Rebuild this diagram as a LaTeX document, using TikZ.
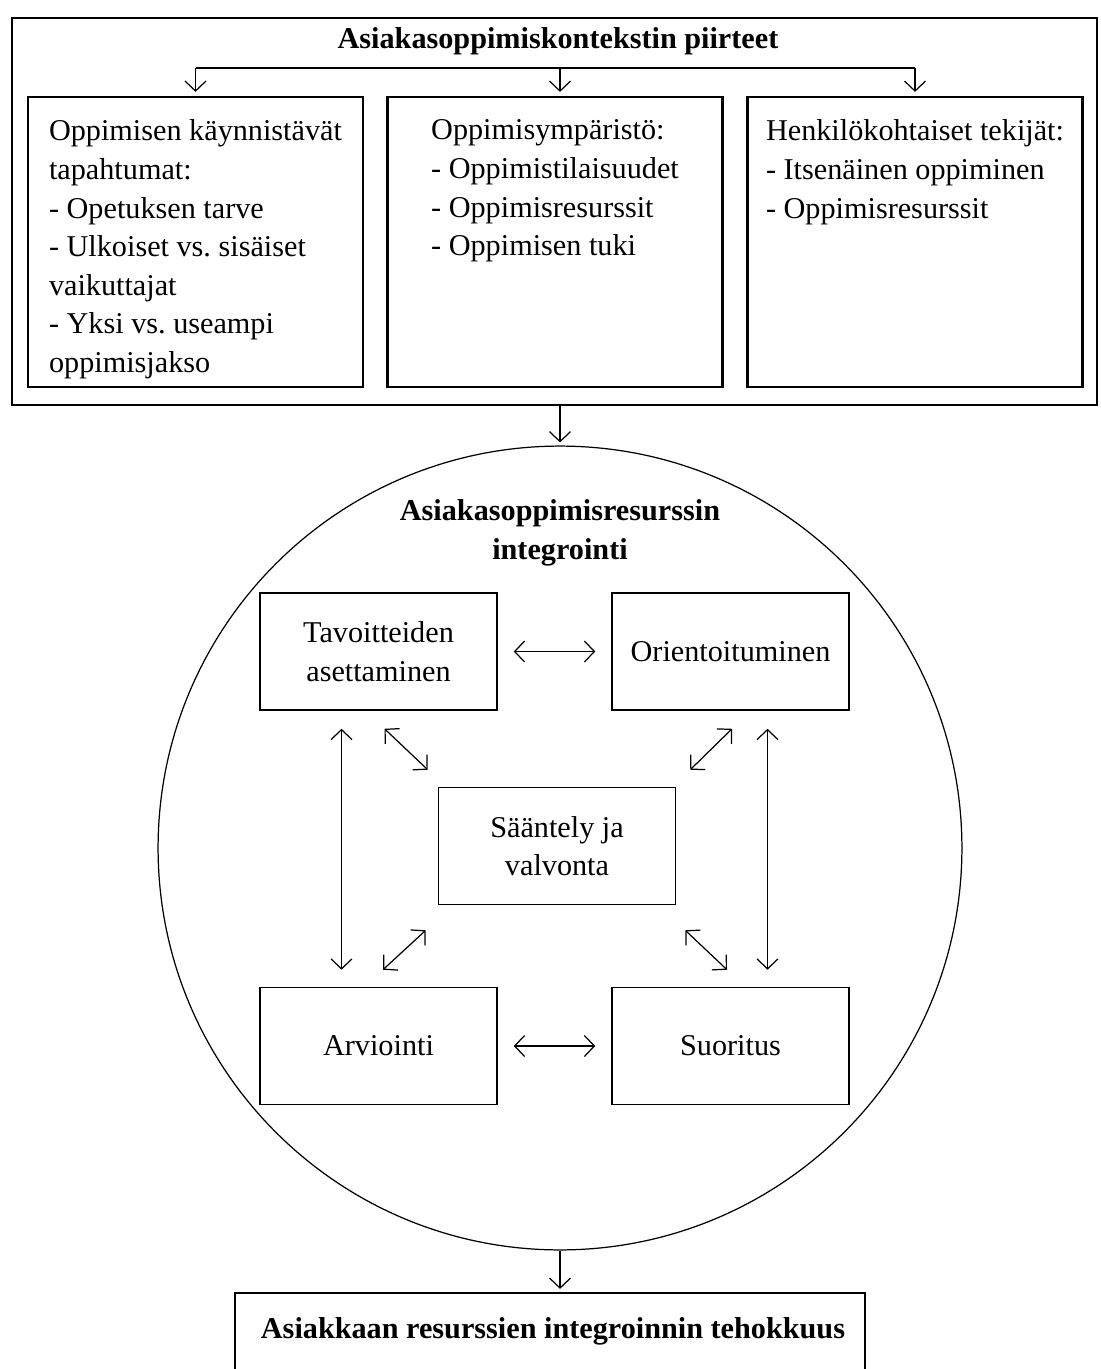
\documentclass[tikz,border=0pt]{standalone}
\usepackage{fontspec}
\setmainfont{Liberation Serif}
\usetikzlibrary{positioning, arrows.meta, calc}
\frenchspacing

\begin{document}
\begin{tikzpicture}[
        x=0.02cm, y=-0.02cm,
        % Style for the framed boxes of the context part
        ctxbox/.style={
            draw,
            line width=1.3pt,
            inner sep=0pt
        },
        % Style for the phase boxes inside the circle
        phasebox/.style={
            draw,
            line width=0.9pt,
            minimum width=4.74cm,
            minimum height=2.34cm,
            align=center,
            inner sep=0pt,
            font=\fontsize{17.2}{22}\selectfont
        },
        % Style for the left aligned box texts
        boxtext/.style={
            align=left,
            inner sep=0pt,
            font=\fontsize{17.2}{22}\selectfont
        },
        % Style for the arrows
        arr/.style={
            ->,
            >={Straight Barb[length=0.2cm, width=0.42cm]},
            line width=0.7pt
        },
        dblarr/.style={
            arr, <->
        }
    ]
    \useasboundingbox (0,0) rectangle (1100,1369);

    % ==========================================
    % CONTEXT FEATURES
    % ==========================================
    \node[ctxbox, minimum width=21.7cm, minimum height=7.74cm] (ctx) at (554.5,211.5) {};
    \node[font=\fontsize{17.2}{22}\selectfont\bfseries] (ctxtitle) at (558,41) {Asiakasoppimiskontekstin piirteet};

    \node[ctxbox, minimum width=6.7cm, minimum height=5.8cm] (trig) at (195.5,242) {};
    \node[ctxbox, minimum width=6.7cm, minimum height=5.8cm] (env) at (555,242) {};
    \node[ctxbox, minimum width=6.7cm, minimum height=5.8cm] (pers) at (915,242) {};

    \node[boxtext, below=0.47cm of trig.north] (trigtext) {Oppimisen käynnistävät\\tapahtumat:\\- Opetuksen tarve\\- Ulkoiset vs. sisäiset\\vaikuttajat\\- Yksi vs. useampi\\oppimisjakso};
    \node[boxtext, below=0.47cm of env.north] (envtext) {Oppimisympäristö:\\- Oppimistilaisuudet\\- Oppimisresurssit\\- Oppimisen tuki};
    \node[boxtext, below=0.47cm of pers.north] (perstext) {Henkilökohtaiset tekijät:\\- Itsenäinen oppiminen\\- Oppimisresurssit};

    % Fork from the title row to the three boxes
    \coordinate (fork) at (560,68);
    \draw[line width=0.7pt] (fork -| trig.north) -- (fork -| pers.north);
    \draw[arr, shorten >=0.08cm] (fork -| trig.north) -- (trig.north);
    \draw[arr, shorten >=0.08cm] (fork) -- (fork |- env.north);
    \draw[arr, shorten >=0.08cm] (fork -| pers.north) -- (pers.north);

    % ==========================================
    % RESOURCE INTEGRATION CIRCLE
    % ==========================================
    \node[draw, circle, line width=0.7pt, minimum size=16.08cm, inner sep=0pt] (circ) at (560,848) {};
    \node[align=center, inner sep=0pt, font=\fontsize{17.2}{22}\selectfont\bfseries] (circtitle) at (560,533) {Asiakasoppimisresurssin\\integrointi};

    \node[phasebox] (goal) at (378.5,651.5) {Tavoitteiden\\asettaminen};
    \node[phasebox] (orient) at (730.5,651.5) {Orientoituminen};
    \node[phasebox] (reg) at (557,846) {Sääntely ja\\valvonta};
    \node[phasebox] (eval) at (378.5,1046) {Arviointi};
    \node[phasebox] (perf) at (730.5,1046) {Suoritus};

    % Arrows between the phases
    \draw[dblarr, shorten <=0.32cm, shorten >=0.32cm] (goal.east) -- (orient.west);
    \draw[dblarr, shorten <=0.32cm, shorten >=0.32cm] (eval.east) -- (perf.west);
    \draw[dblarr] ($(goal.south)+(-37,18)$) -- ($(eval.north)+(-37,-17)$);
    \draw[dblarr] ($(orient.south)+(37,18)$) -- ($(perf.north)+(37,-17)$);
    \draw[dblarr] ($(goal.south)+(6,18)$) -- ($(reg.north west)+(-10,-17)$);
    \draw[dblarr] ($(orient.south)+(1.5,18)$) -- ($(reg.north east)+(14,-17)$);
    \draw[dblarr] ($(eval.north)+(4.5,-17)$) -- ($(reg.south west)+(-12,25)$);
    \draw[dblarr] ($(perf.north)+(-3.5,-17)$) -- ($(reg.south east)+(9,25)$);

    % ==========================================
    % OUTCOME
    % ==========================================
    \node[ctxbox, minimum width=12.6cm, minimum height=2.4cm] (outcome) at (550,1353) {};
    \node[font=\fontsize{17.2}{22}\selectfont\bfseries] (outtext) at (553,1331) {Asiakkaan resurssien integroinnin tehokkuus};

    \draw[arr, shorten >=0.06cm] (circ.north |- ctx.south) -- (circ.north);
    \draw[arr, shorten >=0.06cm] (circ.south) -- (circ.south |- outcome.north);
\end{tikzpicture}
\end{document}
